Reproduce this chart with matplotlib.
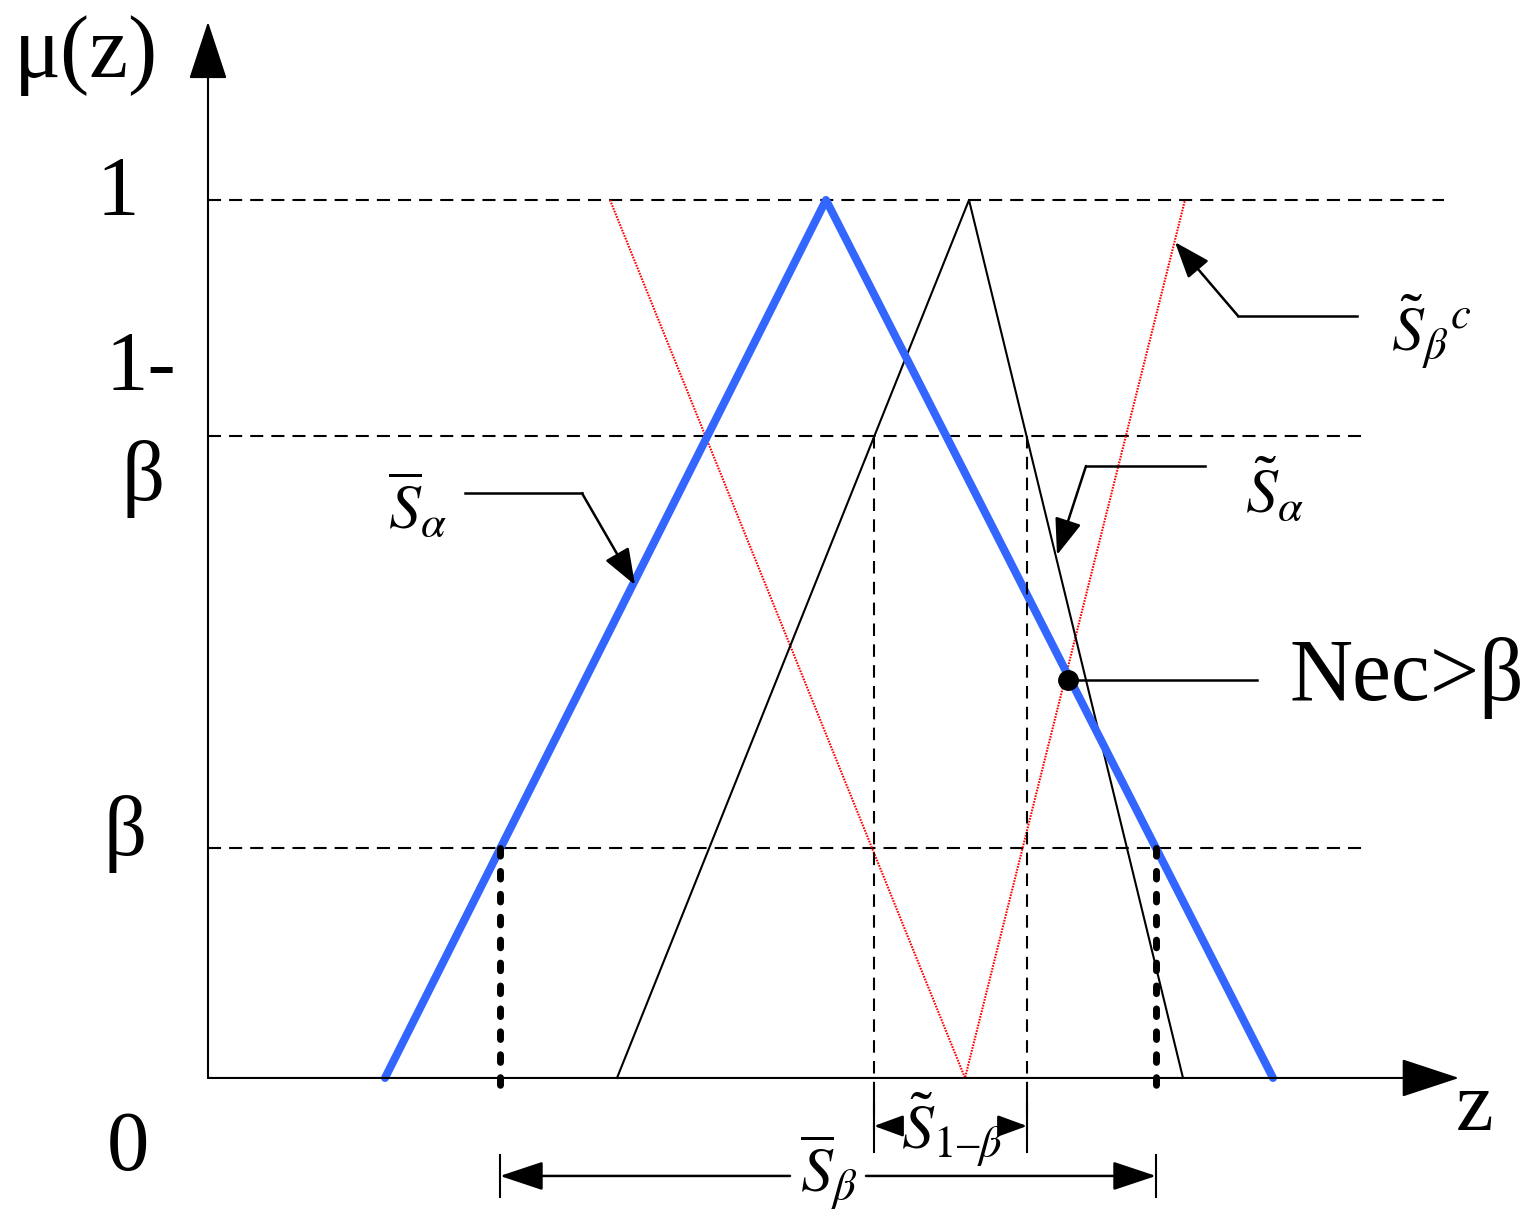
import matplotlib
matplotlib.use("Agg")
import matplotlib.pyplot as plt

plt.rcParams["font.family"] = ["Liberation Serif", "DejaVu Serif"]
plt.rcParams["mathtext.fontset"] = "stix"
plt.rcParams["lines.scale_dashes"] = False

# membership levels
mu_one = 1.0
mu_one_minus_beta = 0.731
mu_beta = 0.262

# triangular fuzzy numbers (z, mu)
blue_z = [1.77, 6.18, 10.65]
blue_mu = [0.0, 1.0, 0.0]
black_z = [4.09, 7.61, 9.75]
black_mu = [0.0, 1.0, 0.0]
red_z = [4.02, 7.57, 9.77]
red_mu = [1.0, 0.0, 1.0]

# cut bounds
s_1mb = [6.66, 8.19]       # black triangle at 1-beta
s_beta = [2.92, 9.48]      # blue triangle at beta
nec_point = (8.60, 0.453)

fig = plt.figure(figsize=(15.34, 12.18), dpi=100)
ax = fig.add_axes([0, 0, 1, 1])
ax.set_xlim(-2.08, 13.26)
ax.set_ylim(-0.1595, 1.2278)
ax.axis("off")

k = "black"
dash = (0, (9.4, 5.8))

# axes with arrowheads
axis_arrow = dict(arrowstyle="-|>,head_length=0.85,head_width=0.28", color=k,
                  lw=1.5, shrinkA=0, shrinkB=0, mutation_scale=44)
ax.annotate("", xy=(0, 1.203), xytext=(0, 0), arrowprops=axis_arrow)
ax.annotate("", xy=(12.51, 0), xytext=(0, 0), arrowprops=axis_arrow)

# horizontal level lines
ax.plot([0, 12.36], [mu_one] * 2, color=k, lw=1.5, ls=dash)
ax.plot([0, 11.58], [mu_one_minus_beta] * 2, color=k, lw=1.5, ls=dash)
ax.plot([0, 11.58], [mu_beta] * 2, color=k, lw=1.5, ls=dash)

# membership functions
ax.plot(red_z, red_mu, color="#ff0000", lw=1.5, ls=(0, (1.2, 0.9)))
ax.plot(black_z, black_mu, color=k, lw=1.5)
ax.plot(blue_z, blue_mu, color="#3366ff", lw=5.8, solid_capstyle="round",
        solid_joinstyle="round")

# projections of the 1-beta cut
for zv in s_1mb:
    ax.plot([zv, zv], [mu_one_minus_beta, -0.059], color=k, lw=1.5, ls=(0, (9, 6)))

# projections of the beta cut (thick dotted)
for zv in s_beta:
    ax.plot([zv, zv], [mu_beta, -0.011], color=k, lw=5, ls=(0, (5.5, 11)),
            dash_capstyle="round")


# brackets
def bracket(bounds, y, y_lo, y_hi, gap, head):
    for zv in bounds:
        ax.plot([zv, zv], [y_lo, y_hi], color=k, lw=1.5)
    style = dict(arrowstyle=f"-|>,head_length={head[0]},head_width={head[1]}",
                 color=k, lw=1.8, shrinkA=0, shrinkB=0, mutation_scale=30)
    ax.annotate("", xy=(bounds[0], y), xytext=(gap[0], y), arrowprops=style)
    ax.annotate("", xy=(bounds[1], y), xytext=(gap[1], y), arrowprops=style)


bracket(s_1mb, -0.0547, -0.019, -0.084, (6.91, 7.94), (0.6, 0.22))
bracket(s_beta, -0.1116, -0.088, -0.136, (5.82, 6.58), (0.9, 0.3))

# leader lines
lead = dict(arrowstyle="-|>,head_length=0.75,head_width=0.28", color=k, lw=1.8,
            shrinkA=0, shrinkB=0, mutation_scale=30)
ax.plot([2.57, 3.74], [0.666, 0.666], color=k, lw=1.8)
ax.annotate("", xy=(4.27, 0.5615), xytext=(3.74, 0.666), arrowprops=lead)
ax.plot([9.97, 8.78], [0.697, 0.697], color=k, lw=1.8)
ax.annotate("", xy=(8.49, 0.5957), xytext=(8.78, 0.697), arrowprops=lead)
ax.plot([11.49, 10.30], [0.868, 0.868], color=k, lw=1.8)
ax.annotate("", xy=(9.67, 0.952), xytext=(10.30, 0.868), arrowprops=lead)

ax.plot([nec_point[0], 10.49], [nec_point[1]] * 2, color=k, lw=1.8)
ax.plot(*nec_point, "o", color=k, ms=14)

# axis texts
big = 61
ax.text(-1.94, 1.140, "μ(z)", fontsize=63, ha="left", va="baseline")
ax.text(-0.90, 0.983, "1", fontsize=big, ha="center", va="baseline")
ax.text(-0.67, 0.784, "1-", fontsize=big, ha="center", va="baseline")
ax.text(-0.65, 0.658, "β", fontsize=big, ha="center", va="baseline")
ax.text(-0.83, 0.254, "β", fontsize=big, ha="center", va="baseline")
ax.text(-0.80, -0.105, "0", fontsize=big, ha="center", va="baseline")
ax.text(12.67, -0.059, "z", fontsize=big, ha="center", va="baseline")
ax.text(10.82, 0.4305, "Nec>β", fontsize=63, ha="left", va="baseline")

# set labels
lab = 46
ax.text(1.80, 0.626, r"$\overline{S}_{\alpha}$", fontsize=lab, ha="left", va="baseline")
ax.text(10.37, 0.6435, r"$\tilde{S}_{\alpha}$", fontsize=lab, ha="left", va="baseline")
ax.text(11.83, 0.827, r"$\tilde{S}_{\beta}{}^{c}$", fontsize=lab, ha="left", va="baseline")
ax.text(6.93, -0.082, "$\\tilde{S}_{1–\\beta}$", fontsize=lab, ha="left", va="baseline")
ax.text(5.92, -0.130, r"$\overline{S}_{\beta}$", fontsize=lab, ha="left", va="baseline")

fig.savefig("out.png", dpi=100)
